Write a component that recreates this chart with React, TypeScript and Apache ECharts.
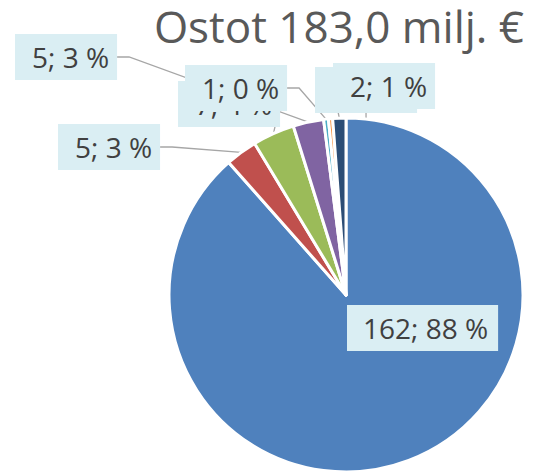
import React, { useEffect, useRef } from "react";
import * as echarts from "echarts";

const categories = ["Luokka 1", "Luokka 2", "Luokka 3", "Luokka 4", "Luokka 5", "Luokka 6", "Luokka 7"];
const values = [161.9, 5.3, 7.0, 5.1, 0.8, 0.7, 2.2];
const titleText = "Ostot 183,0 milj. €";

const sliceColors = ["#4F81BD", "#C0504D", "#9BBB59", "#8064A2", "#4BACC6", "#F79646", "#2C4D75"];
// top-left corners of label boxes (layout, not data)
const labelBoxes: [number, number][] = [
  [347, 305],
  [58, 124],
  [178, 81],
  [15, 34],
  [185, 65],
  [315, 67],
  [333, 63],
];

export default function App() {
  const ref = useRef<HTMLDivElement>(null);
  useEffect(() => {
    if (!ref.current) return;
    const chart = echarts.init(ref.current, undefined, { renderer: "svg" });
    const total = values.reduce((a, b) => a + b, 0);
    chart.setOption({
      animation: false,
      title: {
        text: titleText,
        right: 6,
        top: 2,
        textStyle: {
          fontFamily: "Open Sans",
          fontSize: 44,
          lineHeight: 38,
          fontWeight: "normal",
          color: "#595959",
        },
      },
      series: [
        {
          type: "pie",
          center: [346, 295],
          radius: 177,
          startAngle: 90,
          clockwise: true,
          avoidLabelOverlap: false,
          itemStyle: { borderColor: "#FFFFFF", borderWidth: 3 },
          label: {
            show: true,
            position: "outside",
            formatter: (p: any) =>
              `${Math.round(p.value)}; ${Math.round((p.value / total) * 100)} %`,
            fontFamily: "Open Sans",
            fontSize: 28,
            lineHeight: 30,
            color: "#404040",
            backgroundColor: "#DAEEF3",
            padding: [8, 8, 8, 17],
          },
          labelLine: {
            show: true,
            length: 10,
            length2: 12,
            smooth: false,
            lineStyle: { color: "#A6A6A6", width: 1.3 },
          },
          labelLayout: (params: any) => {
            const b = labelBoxes[params.dataIndex];
            return { x: b[0], y: b[1], align: "left", verticalAlign: "top" };
          },
          data: values.map((v, i) => ({
            name: categories[i],
            value: v,
            itemStyle: { color: sliceColors[i] },
            ...(i === 0
              ? { labelLine: { show: false }, label: { padding: [8, 10, 8, 16] } }
              : {}),
          })),
        },
      ],
    });
    return () => chart.dispose();
  }, []);
  return (
    <div
      ref={ref}
      style={{ position: "absolute", left: 0, top: 0, width: 535, height: 471 }}
    />
  );
}
